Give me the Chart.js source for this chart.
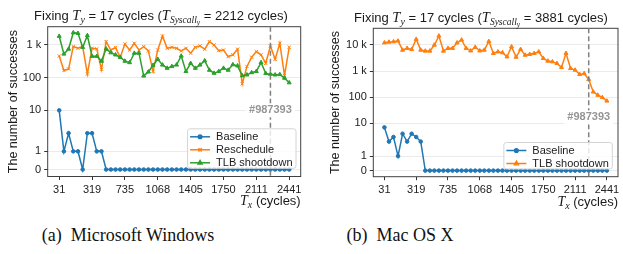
<!DOCTYPE html>
<html>
<head>
<meta charset="utf-8">
<script src="https://cdn.jsdelivr.net/npm/chart.js@4.4.0/dist/chart.umd.min.js"></script>
<style>
  body { margin: 0; background: #fff; width: 623px; height: 254px; position: relative; overflow: hidden; }
  canvas { position: absolute; top: 0; }
  #win-chart { left: 0; }
  #mac-chart { left: 311px; }
  .caption { position: absolute; top: 225px; font: 18px "Liberation Serif"; color: #111; white-space: nowrap; transform: translateX(-50%); }
</style>
</head>
<body>
<canvas id="win-chart" width="311" height="215"></canvas>
<canvas id="mac-chart" width="312" height="215"></canvas>
<div class="caption" style="left:128px">(a)&ensp;Microsoft Windows</div>
<div class="caption" style="left:400px">(b)&ensp;Mac OS X</div>
<script>
// x tick labels (T_x in cycles), one every 7 measurements
const xTickLabels = ["31", "319", "735", "1068", "1405", "1750", "2111", "2441"];
const xTickStep = 7;

const winTicks = [0, 1, 10, 100, 1000];
const winTickLabels = ["0", "1", "10", "100", "1 k"];
const macTicks = [0, 1, 10, 100, 1000, 10000];
const macTickLabels = ["0", "1", "10", "100", "1 k", "10 k"];

// (a) Microsoft Windows
const winBaseline = [10, 1, 2, 1, 1, 0, 2, 2, 1, 1,
  0, 0, 0, 0, 0, 0, 0, 0, 0, 0, 0, 0, 0, 0, 0, 0, 0, 0, 0, 0,
  0, 0, 0, 0, 0, 0, 0, 0, 0, 0, 0, 0, 0, 0, 0, 0, 0, 0, 0, 0];
const winReschedule = [460, 165, 185, 890, 790, 890, 130, 790, 760, 180,
  1260, 700, 830, 420, 1070, 700, 1130, 700, 890, 655,
  155, 700, 1880, 790, 850, 790, 655, 790, 560, 850,
  930, 740, 1260, 1000, 670, 700, 440, 500, 740, 65,
  220, 420, 625, 500, 275, 930, 365, 1130, 116, 850];
const winTlb = [1850, 530, 750, 2370, 2270, 850, 1950, 450, 450, 320,
  760, 580, 500, 420, 320, 290, 560, 560, 113, 150,
  240, 365, 245, 195, 220, 245, 460, 155, 275, 195,
  245, 330, 170, 137, 155, 195, 170, 250, 230, 115,
  122, 143, 155, 290, 135, 128, 122, 125, 97, 70];

// (b) Mac OS X
const macBaseline = [7, 2, 3, 1, 4, 2, 4, 3, 2,
  0, 0, 0, 0, 0, 0, 0, 0, 0, 0, 0, 0, 0, 0, 0, 0, 0, 0, 0, 0, 0,
  0, 0, 0, 0, 0, 0, 0, 0, 0, 0, 0, 0, 0, 0, 0, 0, 0, 0, 0, 0];
const macTlb = [12200, 13000, 13400, 14300, 6400, 7500, 6800, 16600, 6400, 5900,
  5900, 10000, 22200, 5900, 7500, 7500, 12200, 15600, 7500, 6000,
  8200, 6000, 6400, 13800, 4800, 5500, 5100, 3550, 8600, 3450,
  6800, 4100, 4400, 4800, 5500, 3080, 2430, 2290, 1980, 1380,
  4800, 1270, 1100, 750, 810, 480, 160, 120, 98, 72];

const BLUE = "#1f77b4";
const ORANGE = "#ff7f0e";
const GREEN = "#2ca02c";
const SANS = '"Liberation Sans", Arial, sans-serif';
const SERIF = '"Liberation Serif", "Times New Roman", serif';

// symmetric log scale (linthresh 2, linscale 1), like matplotlib's symlog
const LT = 2;
const LS = 1 / (1 - 1 / 10);
function symFwd(v) {
  const a = Math.abs(v);
  return a <= LT ? v * LS : Math.sign(v) * LT * (LS + Math.log10(a / LT));
}
function symInv(u) {
  const a = Math.abs(u);
  return a <= LT * LS ? u / LS : Math.sign(u) * LT * Math.pow(10, a / LT - LS);
}

class SymlogScale extends Chart.Scale {
  determineDataLimits() {
    const { min, max } = this.getMinMax(true);
    this.min = this.options.min ?? min;
    this.max = this.options.max ?? max;
  }
  buildTicks() {
    return [];
  }
  configure() {
    super.configure();
    this._u0 = symFwd(this.min);
    this._u1 = symFwd(this.max);
  }
  getLabelForValue(v) {
    return String(v);
  }
  getPixelForValue(v) {
    return this.getPixelForDecimal((symFwd(v) - this._u0) / (this._u1 - this._u0));
  }
  getValueForPixel(p) {
    return symInv(this._u0 + this.getDecimalForPixel(p) * (this._u1 - this._u0));
  }
}
SymlogScale.id = "symlog";
SymlogScale.defaults = {};
Chart.register(SymlogScale);

function drawRich(ctx, parts, x, y, align) {
  let w = 0;
  parts.forEach((p) => {
    ctx.font = p[1];
    w += ctx.measureText(p[0]).width;
  });
  let cx = align === "center" ? x - w / 2 : align === "right" ? x - w : x;
  ctx.textAlign = "left";
  ctx.textBaseline = "alphabetic";
  parts.forEach((p) => {
    ctx.font = p[1];
    ctx.fillText(p[0], cx, y + (p[2] || 0));
    cx += ctx.measureText(p[0]).width;
  });
}

const decor = {
  id: "decor",
  afterDatasetsDraw(chart, args, opts) {
    const { ctx, chartArea: a, scales } = chart;
    const xs = scales.x;
    const ys = scales.y;
    ctx.save();

    // frame
    ctx.strokeStyle = "#404040";
    ctx.lineWidth = 1;
    ctx.strokeRect(a.left, a.top, a.right - a.left, a.bottom - a.top);

    // dashed marker and its label
    const lx = xs.getPixelForValue(opts.markAt);
    ctx.strokeStyle = "#808080";
    ctx.lineWidth = 1.5;
    ctx.setLineDash([5, 3]);
    ctx.beginPath();
    ctx.moveTo(lx, a.top);
    ctx.lineTo(lx, a.bottom);
    ctx.stroke();
    ctx.setLineDash([]);
    ctx.font = "bold 11px " + SANS;
    const nw = ctx.measureText(opts.note).width;
    const ny = ys.getPixelForValue(opts.noteAt);
    ctx.fillStyle = "#fff";
    ctx.fillRect(lx - nw / 2 - 3, ny - 7, nw + 6, 14);
    ctx.fillStyle = "#959595";
    ctx.textAlign = "center";
    ctx.textBaseline = "middle";
    ctx.fillText(opts.note, lx, ny);

    // legend, lower right inside the axes
    const sets = chart.data.datasets;
    ctx.font = "11px " + SANS;
    const tw = Math.max(...sets.map((d) => ctx.measureText(d.label).width));
    const bw = 2.5 + 20 + 6 + tw + 3.5;
    const bh = 8 + 13 * (sets.length - 1) + 5.5;
    const bx = a.right - opts.legendRight - bw;
    const by = a.bottom - opts.legendBottom - bh;
    ctx.beginPath();
    ctx.roundRect(bx, by, bw, bh, 2.5);
    ctx.fillStyle = "rgba(255,255,255,0.8)";
    ctx.fill();
    ctx.strokeStyle = "#d4d4d4";
    ctx.lineWidth = 1;
    ctx.stroke();
    sets.forEach((d, i) => {
      const ry = by + 8 + 13 * i;
      ctx.strokeStyle = d.borderColor;
      ctx.lineWidth = 1.5;
      ctx.beginPath();
      ctx.moveTo(bx + 2.5, ry);
      ctx.lineTo(bx + 22.5, ry);
      ctx.stroke();
      ctx.fillStyle = d.borderColor;
      Chart.helpers.drawPoint(ctx, { pointStyle: d.pointStyle, radius: d.pointRadius, borderWidth: 1, rotation: 0 }, bx + 12.5, ry);
      ctx.fillStyle = "#1a1a1a";
      ctx.textAlign = "left";
      ctx.textBaseline = "middle";
      ctx.font = "11px " + SANS;
      ctx.fillText(d.label, bx + 28.5, ry + 0.5);
    });

    // titles
    ctx.fillStyle = "#1a1a1a";
    drawRich(ctx, opts.title, opts.titleX, opts.titleY, "center");
    drawRich(ctx, [
      ["T", "italic 14px " + SERIF],
      ["x", "italic 10px " + SERIF, 3],
      [" (cycles)", "13px " + SANS],
    ], a.right, opts.xTitleY, "right");
    ctx.translate(opts.yTitleX, (a.top + a.bottom) / 2);
    ctx.rotate(-Math.PI / 2);
    ctx.font = "12.5px " + SANS;
    ctx.textAlign = "center";
    ctx.textBaseline = "middle";
    ctx.fillText("The number of successes", 0, 0);
    ctx.restore();
  },
};

function titleParts(syscall) {
  const s = "13px " + SANS;
  return [
    ["Fixing ", s],
    ["T", "italic 14.5px " + SERIF],
    ["y", "italic 10px " + SERIF, 3],
    [" = 17 cycles (", s],
    ["T", "italic 14.5px " + SERIF],
    ["Syscall", "italic 9.5px " + SERIF, 3],
    ["y", "italic 7.5px " + SERIF, 5],
    [" = " + syscall + " cycles)", s],
  ];
}

function series(label, values, color, style, order) {
  return {
    label: label,
    data: values.map((v, i) => ({ x: i, y: v })),
    borderColor: color,
    backgroundColor: color,
    borderWidth: 1.5,
    pointStyle: style,
    pointRadius: style === "circle" ? 1.8 : 2.3,
    pointBorderWidth: 1,
    pointBackgroundColor: color,
    order: order,
  };
}

function makeChart(id, datasets, ticks, tickLabels, yMin, yMax, box, deco) {
  return new Chart(document.getElementById(id), {
    type: "line",
    data: { datasets: datasets },
    options: {
      responsive: false,
      animation: false,
      devicePixelRatio: 1,
      layout: { padding: { left: 0, right: box.right, top: box.top, bottom: 0 } },
      scales: {
        x: {
          type: "linear",
          min: -2.45,
          max: 51.45,
          afterBuildTicks: (s) => {
            s.ticks = xTickLabels.map((t, i) => ({ value: i * xTickStep }));
          },
          afterFit: (s) => {
            s.height = box.xHeight;
          },
          grid: { drawOnChartArea: false, tickLength: 3.5, tickColor: "#333", tickWidth: 1 },
          border: { display: false },
          ticks: {
            autoSkip: false,
            maxRotation: 0,
            padding: 3,
            color: "#222",
            font: { family: SANS, size: 11 },
            callback: (v, i) => xTickLabels[i],
          },
        },
        y: {
          type: "symlog",
          min: yMin,
          max: yMax,
          afterBuildTicks: (s) => {
            s.ticks = ticks.map((v) => ({ value: v }));
          },
          afterFit: (s) => {
            s.width = box.yWidth;
          },
          grid: { color: "#ebebeb", lineWidth: 1, tickLength: 3.5, tickColor: "#333", tickWidth: 1 },
          border: { display: false },
          ticks: {
            autoSkip: false,
            padding: 3,
            color: "#222",
            font: { family: SANS, size: 11 },
            callback: (v, i) => tickLabels[i],
          },
        },
      },
      plugins: {
        legend: { display: false },
        tooltip: { enabled: false },
        decor: deco,
      },
    },
    plugins: [decor],
  });
}

makeChart(
  "win-chart",
  [
    series("Baseline", winBaseline, BLUE, "circle", 2),
    series("Reschedule", winReschedule, ORANGE, "crossRot", 1),
    series("TLB shootdown", winTlb, GREEN, "triangle", 0),
  ],
  winTicks, winTickLabels, -0.384, 3615,
  { right: 10.3, top: 26.7, xHeight: 38.5, yWidth: 47.7 },
  {
    markAt: 45, note: "#987393", noteAt: 10,
    legendRight: 4.7, legendBottom: 8.2,
    title: titleParts("2212"), titleX: 161, titleY: 19.5,
    xTitleY: 205, yTitleX: 14,
  }
);

makeChart(
  "mac-chart",
  [
    series("Baseline", macBaseline, BLUE, "circle", 1),
    series("TLB shootdown", macTlb, ORANGE, "triangle", 0),
  ],
  macTicks, macTickLabels, -0.42, 43600,
  { right: 1.3, top: 28.3, xHeight: 38.3, yWidth: 62.3 },
  {
    markAt: 45, note: "#987393", noteAt: 17,
    legendRight: 5.7, legendBottom: 7.7,
    title: titleParts("3881"), titleX: 170, titleY: 22,
    xTitleY: 206, yTitleX: 25,
  }
);
</script>
</body>
</html>
